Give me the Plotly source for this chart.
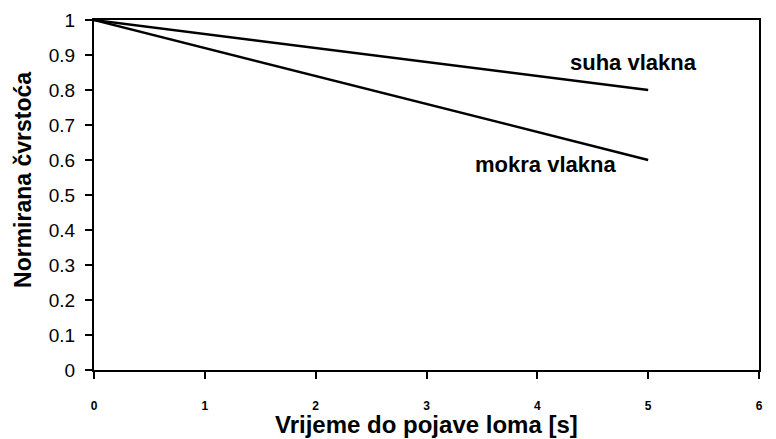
import plotly.graph_objects as go

x_vals = [0, 5]
suha = [1.0, 0.8]
mokra = [1.0, 0.6]
x_ticks = [0, 1, 2, 3, 4, 5, 6]
y_ticks = [0, 0.1, 0.2, 0.3, 0.4, 0.5, 0.6, 0.7, 0.8, 0.9, 1]
y_tick_labels = ["0", "0.1", "0.2", "0.3", "0.4", "0.5", "0.6", "0.7", "0.8", "0.9", "1"]

FONT = "Liberation Sans, Arial"

fig = go.Figure()
fig.add_trace(go.Scatter(x=x_vals, y=suha, mode="lines", line=dict(color="black", width=2.4), name="suha vlakna"))
fig.add_trace(go.Scatter(x=x_vals, y=mokra, mode="lines", line=dict(color="black", width=2.4), name="mokra vlakna"))

fig.add_annotation(x=4.87, y=0.878, text="<b>suha vlakna</b>", showarrow=False,
                   font=dict(family=FONT, size=22, color="black"))
fig.add_annotation(x=4.07, y=0.586, text="<b>mokra vlakna</b>", showarrow=False,
                   font=dict(family=FONT, size=22, color="black"))
# y-axis title (placed slightly above the plot centre, as in the reference)
fig.add_annotation(xref="paper", yref="paper", x=0, y=0.543, xanchor="center", yanchor="middle",
                   xshift=-71, textangle=-90, showarrow=False,
                   text="<b>Normirana čvrstoća</b>", font=dict(family=FONT, size=23, color="black"))
# x-axis title
fig.add_annotation(xref="paper", yref="paper", x=0.5, y=0, xanchor="center", yanchor="middle",
                   yshift=-54, showarrow=False,
                   text="<b>Vrijeme do pojave loma [s]</b>", font=dict(family=FONT, size=24, color="black"))

fig.update_layout(
    width=768, height=439,
    margin=dict(l=86, r=17, t=12, b=77),
    paper_bgcolor="white", plot_bgcolor="white",
    showlegend=False,
    font=dict(family=FONT, color="black"),
)
fig.update_xaxes(
    range=[0, 6], tickvals=x_ticks, ticktext=["<b>%d</b>" % v for v in x_ticks],
    showgrid=False, zeroline=False, automargin=False,
    showline=True, linecolor="black", linewidth=2, mirror=True,
    ticks="outside", ticklen=7, tickwidth=2, tickcolor="black",
    tickfont=dict(size=12, family=FONT), ticklabelstandoff=17,
)
fig.update_yaxes(
    range=[0, 1], tickvals=y_ticks, ticktext=y_tick_labels,
    showgrid=False, zeroline=False, automargin=False,
    showline=True, linecolor="black", linewidth=2, mirror=True,
    ticks="outside", ticklen=7, tickwidth=2, tickcolor="black",
    tickfont=dict(size=19, family=FONT), ticklabelstandoff=6,
)

fig.write_html("out.html")
